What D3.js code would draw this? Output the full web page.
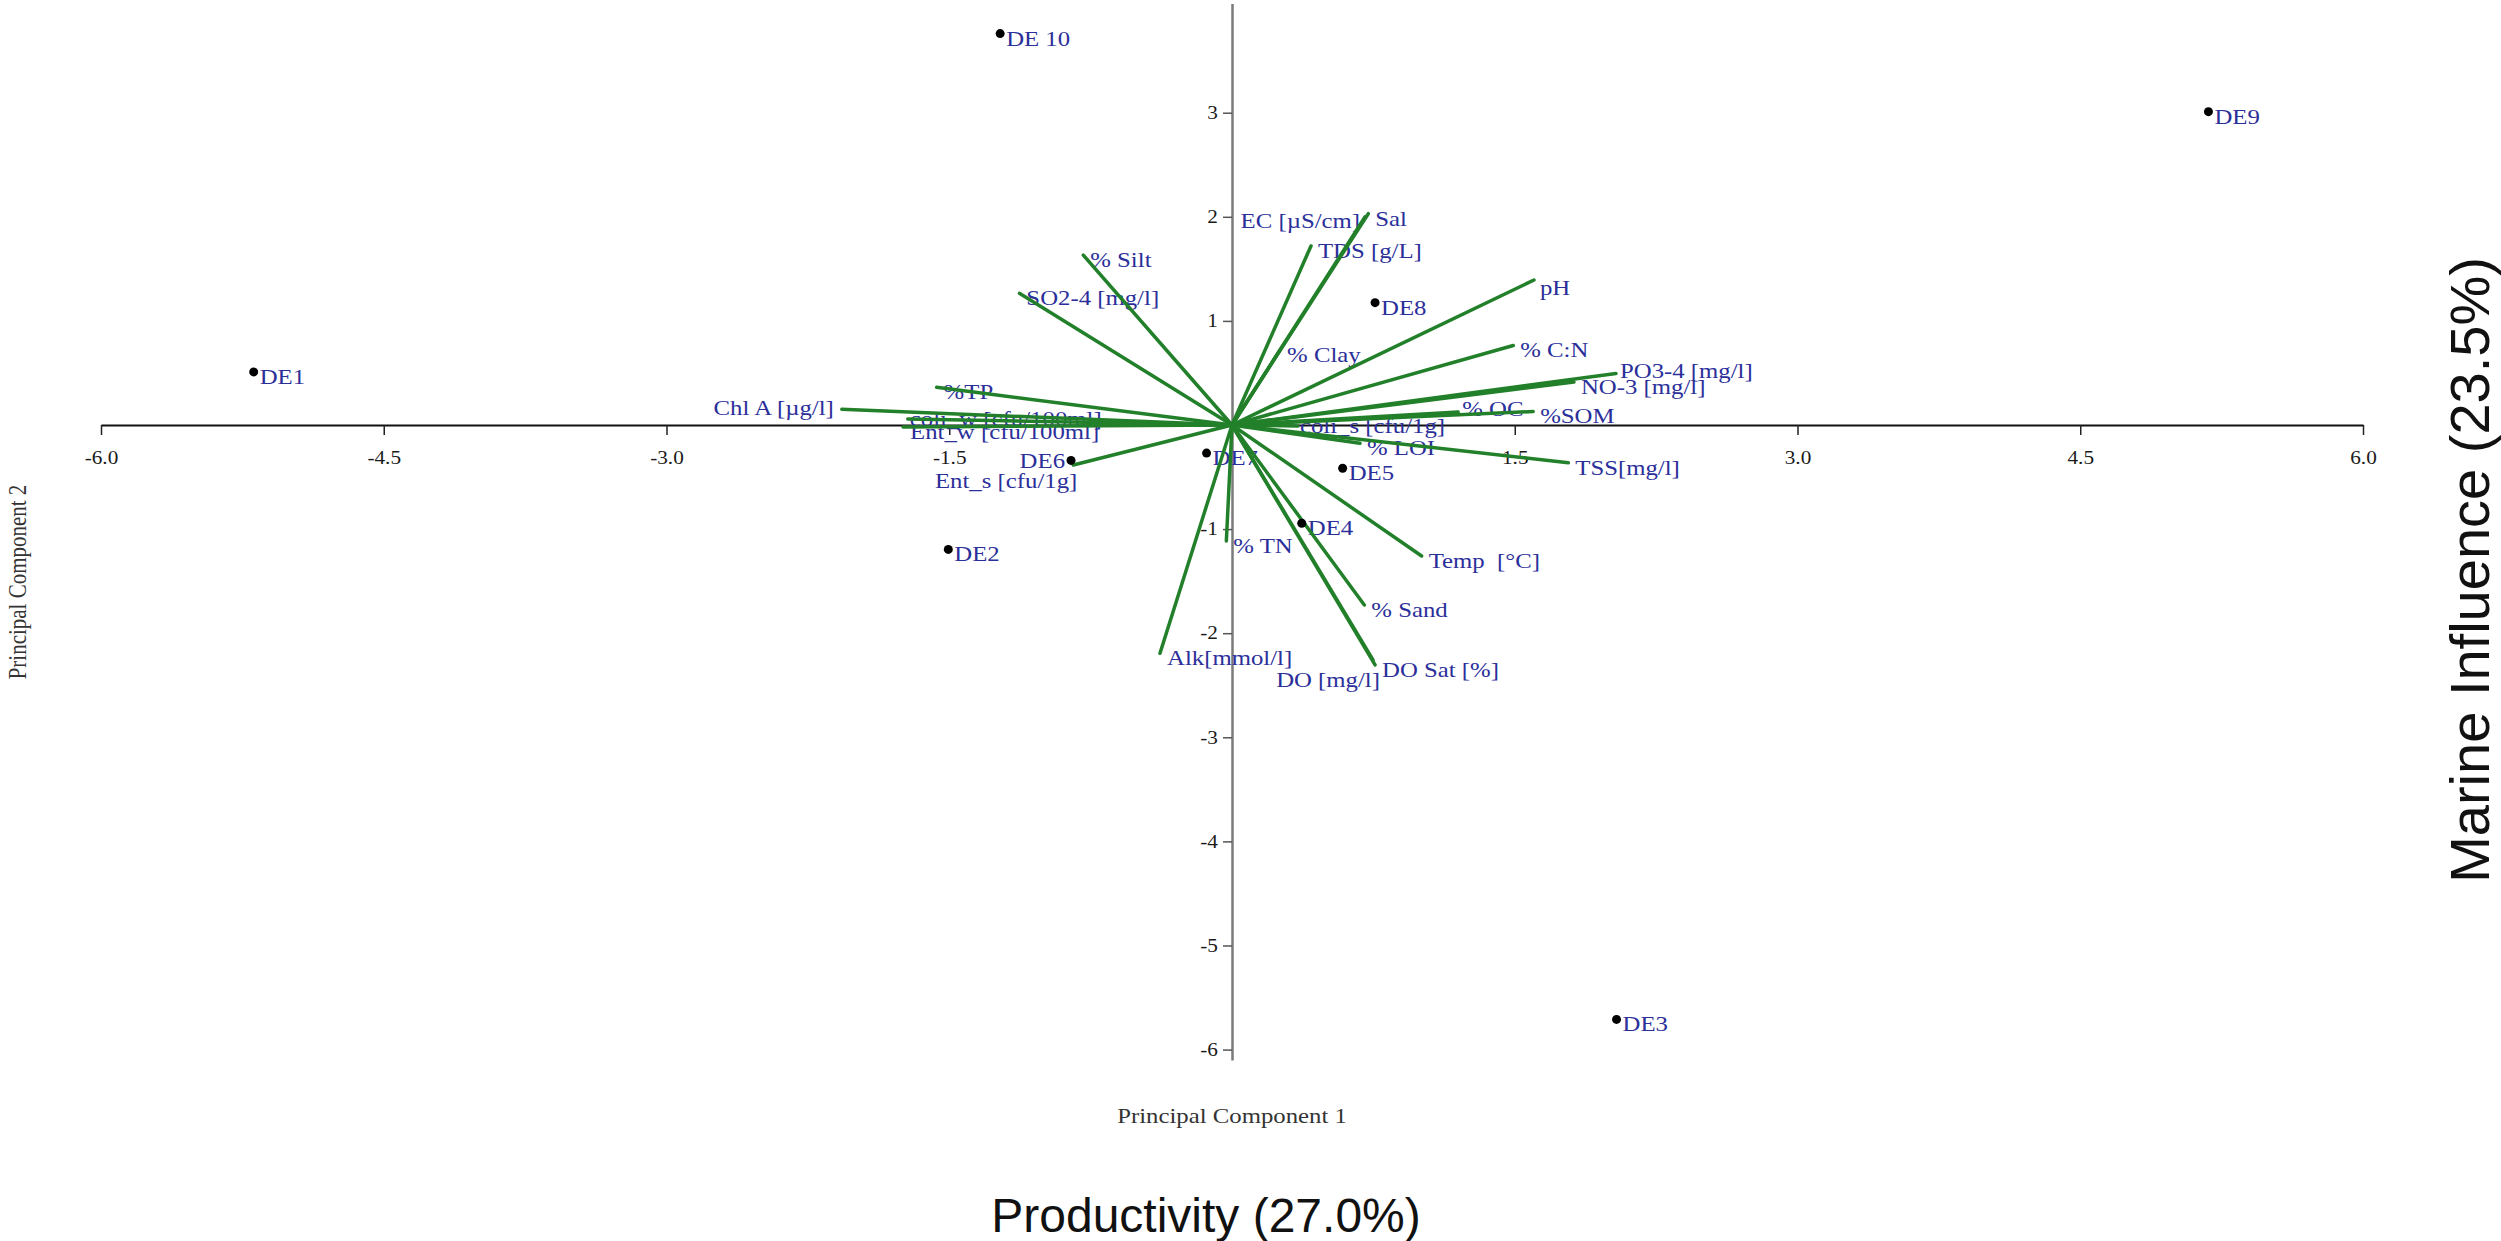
<!DOCTYPE html>
<html><head><meta charset="utf-8">
<script src="https://cdn.jsdelivr.net/npm/d3@7"></script>
<style>body{margin:0;background:#fff;} svg{display:block;} text{white-space:pre;}</style>
</head><body>
<svg id="c" width="2501" height="1241"></svg>
<script>
// ---- data ----
const siteNames = ["DE1","DE2","DE3","DE4","DE5","DE6","DE7","DE8","DE9","DE 10"];
const siteX = [-5.19,-1.505,2.04,0.37,0.587,-0.854,-0.135,0.759,5.18,-1.23];
const siteY = [0.51,-1.195,-5.71,-0.944,-0.416,-0.34,-0.27,1.175,3.01,3.76];

const varNames = ["EC [µS/cm]","Sal","TDS [g/L]","% Clay","pH","% C:N","PO3-4 [mg/l]","NO-3 [mg/l]",
  "%SOM","% OC","coli_s [cfu/1g]","% LOI","TSS[mg/l]","Temp  [°C]","% Sand","DO Sat [%]","DO [mg/l]",
  "% TN","Alk[mmol/l]","Ent_s [cfu/1g]","Ent_w [cfu/100ml]","coli_w [cfu/100ml]","Chl A [µg/l]","%TP",
  "SO2-4 [mg/l]","% Silt"];
const loadX = [0.706,0.723,0.419,0.255,1.602,1.492,2.037,1.814,1.598,1.20,0.35,0.679,1.784,1.006,0.702,0.759,0.748,
  -0.03,-0.382,-0.842,-1.745,-1.72,-2.07,-1.567,-1.128,-0.789];
const loadY = [2.00,2.03,1.72,0.72,1.393,0.764,0.495,0.413,0.13,0.125,-0.01,-0.176,-0.362,-1.258,-1.729,-2.305,-2.257,
  -1.114,-2.193,-0.384,-0.02,0.058,0.151,0.362,1.265,1.632];

const xTicks = [-6,-4.5,-3,-1.5,1.5,3,4.5,6];
const yTicks = [3,2,1,-1,-2,-3,-4,-5,-6];
const xTitle = "Principal Component 1", yTitle = "Principal Component 2";
const xNote = "Productivity (27.0%)", yNote = "Marine Influence (23.5%)";

// ---- layout / style ----
const SX = 1.18; // horizontal stretch of the original picture's text
const serif = "'Liberation Serif','Times New Roman',serif";
const sans = "'Liberation Sans',Arial,sans-serif";
const labBlue = "#2b2f9a", green = "#23802a";
const labelPlace = {
  "EC [µS/cm]": ["end",-5,11], "Chl A [µg/l]": ["end",-8,6], "Ent_s [cfu/1g]": ["end",4,23],
  "DO [mg/l]": ["end",7,27], "PO3-4 [mg/l]": ["start",4,5], "% OC": ["start",4,4],
  "coli_s [cfu/1g]": ["start",2,7], "coli_w [cfu/100ml]": ["start",2,7], "pH": ["start",6,15]
};
const sitePlace = {"DE6": ["end",-6,8]};

const svg = d3.select("#c");
const x = d3.scaleLinear().domain([-6,6]).range([101,2363]);
const y = d3.scaleLinear().domain([-6.1,4.05]).range([1060,3.4]);

function stext(parent, px, py, txt, size, color, anchor, family){
  return parent.append("g").attr("transform",`translate(${px},${py}) scale(${SX},1)`)
    .append("text").attr("x",0).attr("y",0).attr("text-anchor",anchor||"start")
    .attr("font-family",family||serif).attr("font-size",size).attr("fill",color).text(txt);
}

// axes
const xa = svg.append("g").attr("transform",`translate(0,${y(0)})`)
  .call(d3.axisBottom(x).tickValues(xTicks).tickFormat(d => d.toFixed(1)).tickSize(10).tickSizeOuter(0).tickPadding(16));
xa.select(".domain").attr("stroke","#111").attr("stroke-width",2);
xa.selectAll(".tick line").attr("stroke","#222").attr("stroke-width",1.5);
xa.selectAll(".tick text").attr("font-family",serif).attr("font-size",18).attr("fill","#1a1a1a")
  .attr("transform",`scale(${SX},1)`);

const ya = svg.append("g").attr("transform",`translate(${x(0)},0)`)
  .call(d3.axisLeft(y).tickValues(yTicks).tickFormat(d => String(d)).tickSize(9).tickSizeOuter(0).tickPadding(3));
ya.select(".domain").attr("stroke","#7a7a7a").attr("stroke-width",2.5);
ya.selectAll(".tick line").attr("stroke","#555").attr("stroke-width",1.5);
ya.selectAll(".tick text").attr("font-family",serif).attr("font-size",18).attr("fill","#1a1a1a")
  .attr("transform",`scale(${SX},1)`);

// labels (drawn under lines as in the reference)
const labG = svg.append("g");
varNames.forEach((n,i)=>{
  const p = labelPlace[n] || ["start",7,12];
  stext(labG, x(loadX[i])+p[1], y(loadY[i])+p[2], n, 21, labBlue, p[0]);
});
siteNames.forEach((n,i)=>{
  const p = sitePlace[n] || ["start",6,12];
  stext(labG, x(siteX[i])+p[1], y(siteY[i])+p[2], n, 21, labBlue, p[0]);
});

// loading vectors
svg.append("g").selectAll("line").data(varNames).join("line")
  .attr("x1",x(0)).attr("y1",y(0))
  .attr("x2",(d,i)=>x(loadX[i])).attr("y2",(d,i)=>y(loadY[i]))
  .attr("stroke",green).attr("stroke-width",3.5).attr("stroke-linecap","round");

// site points
svg.append("g").selectAll("circle").data(siteNames).join("circle")
  .attr("cx",(d,i)=>x(siteX[i])).attr("cy",(d,i)=>y(siteY[i])).attr("r",4.5).attr("fill","#000");

// axis titles
stext(svg, x(0), 1123, xTitle, 21, "#333", "middle");
svg.append("g").attr("transform",`translate(26,582) scale(${SX},1) rotate(-90)`)
  .append("text").attr("text-anchor","middle").attr("font-family",serif).attr("font-size",21)
  .attr("fill","#333").text(yTitle);

// annotations
svg.append("text").attr("x",1206).attr("y",1232).attr("text-anchor","middle")
  .attr("font-family",sans).attr("font-size",48).attr("fill","#111").text(xNote);
svg.append("g").attr("transform","translate(2489,570) rotate(-90)")
  .append("text").attr("text-anchor","middle").attr("font-family",sans).attr("font-size",56)
  .attr("fill","#111").text(yNote);
</script>
</body></html>
